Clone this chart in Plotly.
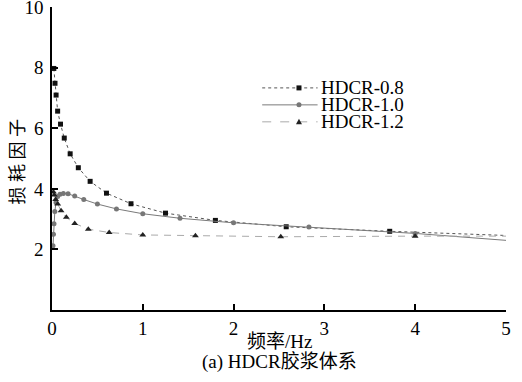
import plotly.graph_objects as go

# Loss factor vs frequency for three HDCR grout mixes
freq_08 = [0.02, 0.033, 0.045, 0.062, 0.094, 0.135, 0.2, 0.29, 0.42, 0.6, 0.87, 1.25, 1.8, 2.58, 3.72, 5.4]
loss_08 = [7.98, 7.49, 7.10, 6.57, 6.14, 5.68, 5.16, 4.70, 4.25, 3.86, 3.51, 3.20, 2.96, 2.75, 2.60, 2.42]

freq_10 = [0.011, 0.016, 0.022, 0.031, 0.044, 0.0625, 0.088, 0.125, 0.177, 0.25, 0.35, 0.5, 0.71, 1.0, 1.41, 2.0, 2.83, 4.0, 5.66]
loss_10 = [2.12, 2.50, 2.85, 3.25, 3.55, 3.75, 3.82, 3.85, 3.84, 3.77, 3.65, 3.50, 3.34, 3.18, 3.03, 2.88, 2.74, 2.53, 2.15]

freq_12 = [0.016, 0.025, 0.04, 0.063, 0.1, 0.158, 0.25, 0.4, 0.63, 1.0, 1.58, 2.52, 4.0, 6.3]
loss_12 = [3.90, 3.80, 3.65, 3.50, 3.28, 3.06, 2.86, 2.67, 2.56, 2.48, 2.45, 2.42, 2.44, 2.44]

series_names = ["HDCR-0.8", "HDCR-1.0", "HDCR-1.2"]
x_ticks = [0, 1, 2, 3, 4, 5]
y_ticks = [2, 4, 6, 8, 10]

SERIF = "Liberation Serif, Noto Sans CJK SC, serif"

fig = go.Figure()
fig.add_trace(go.Scatter(
    x=freq_08, y=loss_08, mode="lines+markers", name=series_names[0],
    line=dict(color="#555555", width=1, dash="dot"),
    marker=dict(symbol="square", size=5, color="#111111"),
))
fig.add_trace(go.Scatter(
    x=freq_10, y=loss_10, mode="lines+markers", name=series_names[1],
    line=dict(color="#7a7a7a", width=1),
    marker=dict(symbol="circle", size=5, color="#777777"),
))
fig.add_trace(go.Scatter(
    x=freq_12, y=loss_12, mode="lines+markers", name=series_names[2],
    line=dict(color="#aaaaaa", width=1, dash="7px,6px"),
    marker=dict(symbol="triangle-up", size=6, color="#222222"),
))

axis_common = dict(
    showline=True, linecolor="black", linewidth=1.5,
    ticks="inside", ticklen=6, tickwidth=1.5, tickcolor="black",
    showgrid=False, zeroline=False, ticklabeloverflow="allow", automargin=False,
    tickfont=dict(family=SERIF, size=19, color="black"),
)
fig.update_xaxes(range=[0, 5.001], tickvals=x_ticks, **axis_common)
fig.update_yaxes(range=[0, 10.01], tickvals=y_ticks, ticklabelstandoff=3, **axis_common)

# Hand-drawn legend: sample line, marker and label per series
legend_rows = [0.733, 0.677, 0.621]
x0, x1, xm, xt = 0.463, 0.585, 0.544, 0.589
styles = [
    dict(color="#555555", dash="dot"),
    dict(color="#7a7a7a", dash="solid"),
    dict(color="#aaaaaa", dash="dash"),
]
shapes = []
annotations = []
for i, (yy, st) in enumerate(zip(legend_rows, styles)):
    shapes.append(dict(type="line", xref="paper", yref="paper", x0=x0, x1=x1, y0=yy, y1=yy,
                       line=dict(color=st["color"], width=1, dash=st["dash"])))
    annotations.append(dict(xref="paper", yref="paper", x=xt, y=yy, text=series_names[i],
                            showarrow=False, xanchor="left", yanchor="middle",
                            font=dict(family=SERIF, size=19, color="black")))
# legend markers drawn in pixel units around their anchor
shapes.append(dict(type="rect", xref="paper", yref="paper", xsizemode="pixel", ysizemode="pixel",
                   xanchor=xm, yanchor=legend_rows[0], x0=-2.5, x1=2.5, y0=-2.5, y1=2.5,
                   fillcolor="#111111", line=dict(width=0)))
shapes.append(dict(type="circle", xref="paper", yref="paper", xsizemode="pixel", ysizemode="pixel",
                   xanchor=xm, yanchor=legend_rows[1], x0=-2.5, x1=2.5, y0=-2.5, y1=2.5,
                   fillcolor="#777777", line=dict(width=0)))
shapes.append(dict(type="path", xref="paper", yref="paper", xsizemode="pixel", ysizemode="pixel",
                   xanchor=xm, yanchor=legend_rows[2], path="M -3,-2.5 L 3,-2.5 L 0,3 Z",
                   fillcolor="#222222", line=dict(width=0)))

annotations += [
    dict(xref="paper", yref="paper", x=0.5, y=-0.105, text="频率/Hz", showarrow=False,
         xanchor="center", yanchor="middle", font=dict(family=SERIF, size=19, color="black")),
    dict(xref="paper", yref="paper", x=0.5, y=-0.172, text="(a) HDCR胶浆体系", showarrow=False,
         xanchor="center", yanchor="middle", font=dict(family=SERIF, size=19, color="black")),
    dict(xref="paper", yref="paper", x=-0.075, y=0.49, text="损 耗 因 子", showarrow=False,
         textangle=-90, xanchor="center", yanchor="middle",
         font=dict(family=SERIF, size=18, color="black")),
    dict(xref="paper", yref="paper", x=-0.035, y=-0.222, text="10", showarrow=False,
         xanchor="center", yanchor="top", font=dict(family=SERIF, size=19, color="black")),
]

fig.update_layout(
    width=522, height=382,
    margin=dict(l=52, r=16, t=7, b=72, autoexpand=False),
    plot_bgcolor="white", paper_bgcolor="white",
    showlegend=False,
    shapes=shapes, annotations=annotations,
)

fig.write_html("out.html")
